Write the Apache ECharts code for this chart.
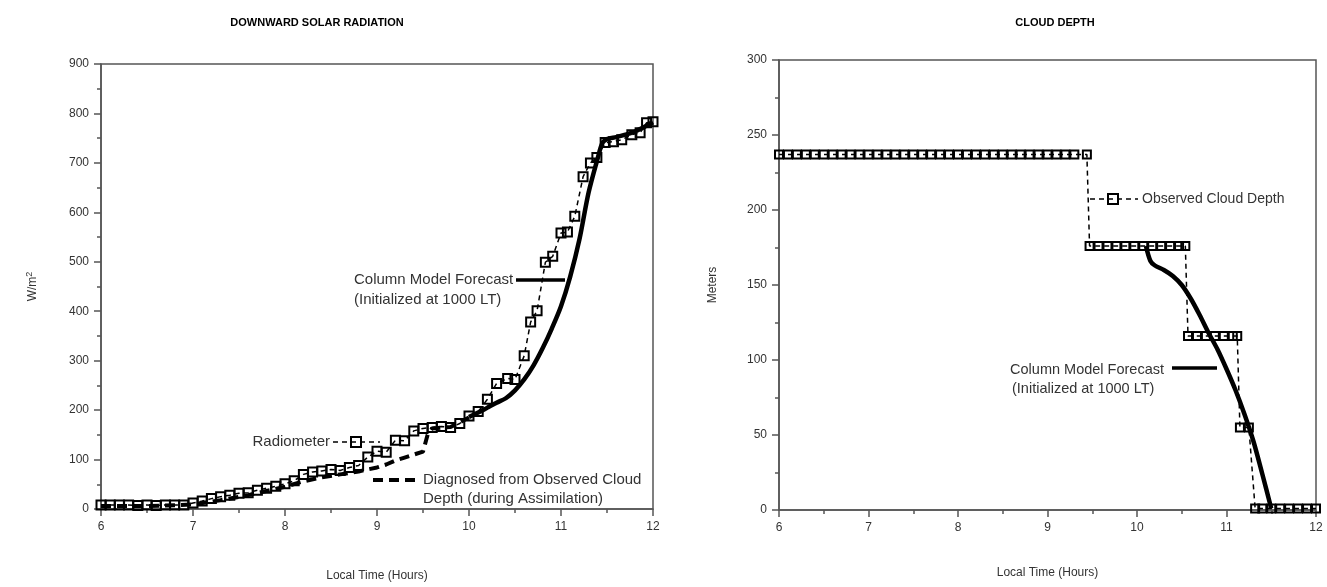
<!DOCTYPE html>
<html>
<head>
<meta charset="utf-8">
<script src="https://cdn.jsdelivr.net/npm/echarts@6/dist/echarts.min.js"></script>
<style>
html,body{margin:0;padding:0;background:#fff;}
#chart{width:1327px;height:587px;}
</style>
</head>
<body>
<div id="chart"></div>
<script>
// ---------- DATA ----------
// Left panel: Downward Solar Radiation (W/m^2)
const radioHours = [6.0,6.1,6.2,6.3,6.4,6.5,6.6,6.7,6.8,6.9,
  7.0,7.1,7.2,7.3,7.4,7.5,7.6,7.7,7.8,7.9,
  8.0,8.1,8.2,8.3,8.4,8.5,8.6,8.7,8.8,8.9,
  9.0,9.1,9.2,9.3,9.4,9.5,9.6,9.7,9.8,9.9,
  10.0,10.1,10.2,10.3,10.42,10.5,10.6,10.67,10.74,10.83,10.91,11.0,11.07,11.15,11.24,11.32,11.39,11.48,11.57,11.66,11.77,11.86,11.93,12.0];
const radioValues = [8,8,8,8,7,8,7,8,8,8,
  12,16,21,25,28,32,33,38,42,46,
  51,57,70,75,77,80,78,84,88,105,
  117,115,139,138,158,163,165,167,165,173,
  188,197,222,254,264,262,310,378,401,499,511,558,560,592,672,700,711,741,743,747,757,761,781,783];

const diagHours  = [6.0,6.5,7.0,7.3,7.6,8.0,8.2,8.4,8.6,8.8,9.0,9.1,9.2,9.3,9.4,9.5,9.55,9.6,9.8,10.0];
const diagValues = [6,6,9,18,28,45,56,64,70,76,84,90,98,104,110,116,150,163,166,185];

const fcstHours  = [10.0,10.1,10.2,10.3,10.4,10.5,10.6,10.7,10.8,10.9,11.0,11.1,11.2,11.3,11.4,11.45,11.5,11.6,11.7,11.8,11.9,12.0];
const fcstValues = [186,195,205,215,224,240,262,290,325,365,410,470,545,640,710,740,748,752,757,763,772,782];

// Right panel: Cloud Depth (meters)
const obsHours = [6.0,6.1,6.2,6.3,6.4,6.5,6.6,6.7,6.8,6.9,7.0,7.1,7.2,7.3,7.4,7.5,7.6,7.7,7.8,7.9,
  8.0,8.1,8.2,8.3,8.4,8.5,8.6,8.7,8.8,8.9,9.0,9.1,9.2,9.3,9.44,
  9.47,9.57,9.67,9.77,9.87,9.97,10.07,10.17,10.27,10.37,10.47,10.54,
  10.57,10.67,10.77,10.87,10.97,11.07,11.12,
  11.15,11.25,
  11.32,11.4,11.5,11.6,11.7,11.8,11.9,12.0];
const obsValues = [237,237,237,237,237,237,237,237,237,237,237,237,237,237,237,237,237,237,237,237,
  237,237,237,237,237,237,237,237,237,237,237,237,237,237,237,
  176,176,176,176,176,176,176,176,176,176,176,176,
  116,116,116,116,116,116,116,
  55,55,
  1,1,1,1,1,1,1,1];

const cdFcstHours  = [10.1,10.15,10.2,10.3,10.4,10.5,10.6,10.7,10.8,10.9,11.0,11.1,11.2,11.3,11.4,11.5];
const cdFcstValues = [176,166,163,160,156,150,141,130,118,107,94,80,64,46,24,1];

// tick labels
const xTicks = [6,7,8,9,10,11,12];

// ---------- BUILD ----------
const pair = (xs, ys) => xs.map((x, i) => [x, ys[i]]);
const FONT = "'Liberation Sans', Arial, sans-serif";
const TXT = '#333';
const AX = '#555';

function xAxisCfg(gridIndex, nameGap) {
  return {
    gridIndex, type: 'value', min: 6, max: 12, interval: 1,
    name: 'Local Time (Hours)', nameLocation: 'middle', nameGap,
    nameTextStyle: {fontFamily: FONT, fontSize: 12, color: TXT},
    axisLine: {show: true, lineStyle: {color: AX, width: 1.5}},
    axisTick: {show: true, inside: false, length: 7, lineStyle: {color: AX, width: 1.5}},
    minorTick: {show: true, splitNumber: 2, length: 4, lineStyle: {color: AX, width: 1.5}},
    axisLabel: {fontFamily: FONT, fontSize: 12, color: TXT, margin: 12,
      formatter: v => xTicks.includes(v) ? String(v) : ''},
    splitLine: {show: false}
  };
}
function yAxisCfg(gridIndex, max, interval, name, nameGap) {
  return {
    gridIndex, type: 'value', min: 0, max, interval,
    name, nameLocation: 'middle', nameGap, nameRotate: 90,
    nameTextStyle: {fontFamily: FONT, fontSize: 12, color: TXT,
      rich: {sup: {fontFamily: FONT, fontSize: 9, color: TXT, verticalAlign: 'top', padding: [0,0,6,0]}}},
    axisLine: {show: true, lineStyle: {color: AX, width: 1.5}},
    axisTick: {show: true, inside: false, length: 7, lineStyle: {color: AX, width: 1.5}},
    minorTick: {show: true, splitNumber: 2, length: 4, lineStyle: {color: AX, width: 1.5}},
    axisLabel: {fontFamily: FONT, fontSize: 12, color: TXT, margin: 12},
    splitLine: {show: false}
  };
}

const squareStyle = {color: 'rgba(255,255,255,0)', borderColor: '#000', borderWidth: 2};

const chart = echarts.init(document.getElementById('chart'), null, {renderer: 'canvas'});

const legendText = (x, y, text, align, size) => ({
  type: 'text', x, y,
  style: {text, fill: TXT, font: `${size || 14}px ${FONT}`, textAlign: align || 'left', textVerticalAlign: 'middle'}
});
const legendLine = (x1, x2, y, width, dash) => ({
  type: 'line', shape: {x1, y1: y, x2, y2: y},
  style: {stroke: '#000', lineWidth: width, lineDash: dash || null}
});
const legendSquare = (cx, cy, s) => ({
  type: 'rect', shape: {x: cx - s/2, y: cy - s/2, width: s, height: s},
  style: {fill: 'rgba(255,255,255,0)', stroke: '#000', lineWidth: 2}, z: 10
});

chart.setOption({
  animation: false,
  backgroundColor: '#fff',
  title: [
    {text: 'DOWNWARD SOLAR RADIATION', left: 312, top: 12, textAlign: 'center',
      textStyle: {fontFamily: FONT, fontSize: 11, fontWeight: 'bold', color: '#000'}},
    {text: 'CLOUD DEPTH', left: 1050, top: 12, textAlign: 'center',
      textStyle: {fontFamily: FONT, fontSize: 11, fontWeight: 'bold', color: '#000'}}
  ],
  grid: [
    {left: 101, right: 674, top: 64, bottom: 76, show: true, borderColor: AX, borderWidth: 1.5, backgroundColor: 'transparent'},
    {left: 779, right: 11, top: 60, bottom: 77, show: true, borderColor: AX, borderWidth: 1.5, backgroundColor: 'transparent'}
  ],
  xAxis: [xAxisCfg(0, 61), xAxisCfg(1, 57)],
  yAxis: [
    yAxisCfg(0, 900, 100, 'W/m{sup|2}', 61),
    yAxisCfg(1, 300, 50, 'Meters', 60)
  ],
  series: [
    {name: 'Diagnosed', type: 'line', xAxisIndex: 0, yAxisIndex: 0,
      data: pair(diagHours, diagValues), showSymbol: false, symbol: 'none',
      lineStyle: {color: '#000', width: 4, type: [10, 6]}, z: 2},
    {name: 'Radiometer', type: 'line', xAxisIndex: 0, yAxisIndex: 0,
      data: pair(radioHours, radioValues), symbol: 'rect', symbolSize: 9,
      itemStyle: squareStyle,
      lineStyle: {color: '#000', width: 1.5, type: [5, 4]}, z: 3},
    {name: 'Forecast', type: 'line', xAxisIndex: 0, yAxisIndex: 0,
      data: pair(fcstHours, fcstValues), symbol: 'none', smooth: 0.3,
      lineStyle: {color: '#000', width: 4.5}, z: 4},
    {name: 'Observed Cloud Depth', type: 'line', xAxisIndex: 1, yAxisIndex: 1,
      data: pair(obsHours, obsValues), symbol: 'rect', symbolSize: 8,
      itemStyle: squareStyle,
      lineStyle: {color: '#000', width: 1.5, type: [5, 4]}, z: 3},
    {name: 'CD Forecast', type: 'line', xAxisIndex: 1, yAxisIndex: 1,
      data: pair(cdFcstHours, cdFcstValues), symbol: 'none', smooth: 0.3,
      lineStyle: {color: '#000', width: 4.5}, z: 4}
  ],
  graphic: [
    // left legend items
    legendText(354, 280, 'Column Model Forecast', 'left', 15),
    legendText(354, 300, '(Initialized at 1000 LT)', 'left', 15),
    legendLine(516, 565, 280, 3.5),
    legendText(330, 442, 'Radiometer', 'right', 15),
    legendLine(333, 380, 442, 1.5, [5, 4]),
    legendSquare(356, 442, 10),
    legendLine(373, 420, 480, 4, [10, 6]),
    legendText(423, 480, 'Diagnosed from Observed Cloud', 'left', 15),
    legendText(423, 499, 'Depth (during Assimilation)', 'left', 15),
    // right legend items
    legendLine(1090, 1138, 199, 1.5, [5, 4]),
    legendSquare(1113, 199, 10),
    legendText(1142, 199, 'Observed Cloud Depth', 'left', 14),
    legendText(1164, 370, 'Column Model Forecast', 'right', 14.5),
    legendLine(1172, 1217, 368, 3.5),
    legendText(1012, 389, '(Initialized at 1000 LT)', 'left', 14.5)
  ]
});
</script>
</body>
</html>
